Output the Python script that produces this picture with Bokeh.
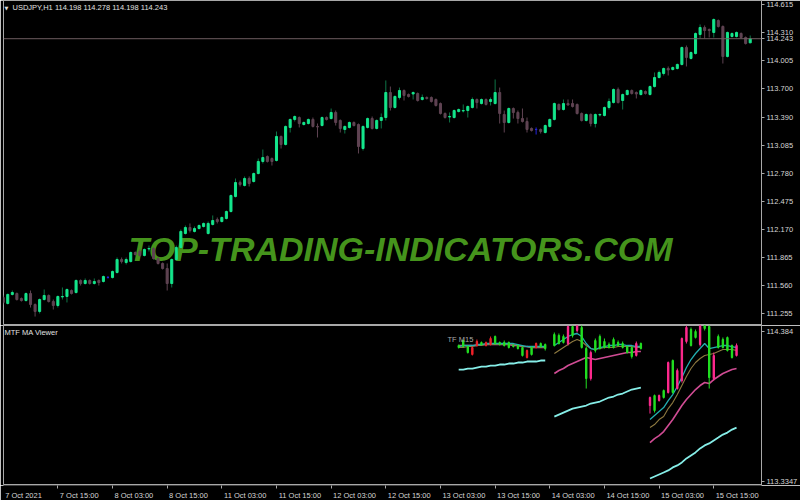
import numpy as np
from bokeh.plotting import figure
from bokeh.layouts import column
from bokeh.models import (ColumnDataSource, Range1d, FixedTicker, LinearAxis,
                          CustomJSTickFormatter, Label, Span)
from bokeh.embed import file_html
from bokeh.resources import INLINE

# ---------------- USDJPY H1 candles, from 7 Oct 2021 03:00 ----------------
h1_open = [
    111.429, 111.364, 111.462, 111.472, 111.418, 111.396, 111.472, 111.353, 111.277, 111.407,
    111.451, 111.385, 111.342, 111.435, 111.440, 111.505, 111.483, 111.614, 111.581, 111.614,
    111.581, 111.614, 111.603, 111.646, 111.646, 111.701, 111.842, 111.810, 111.820, 111.918,
    111.929, 111.886, 111.957, 111.962, 111.853, 111.799, 111.744, 111.581, 111.842, 111.973,
    112.125, 112.190, 112.147, 112.179, 112.201, 112.125, 112.223, 112.277, 112.255, 112.288,
    112.364, 112.527, 112.679, 112.647, 112.723, 112.690, 112.777, 112.908, 112.962, 112.940,
    112.919, 113.180, 113.093, 113.278, 113.365, 113.386, 113.310, 113.321, 113.365, 113.289,
    113.299, 113.386, 113.375, 113.441, 113.354, 113.256, 113.278, 113.332, 113.310, 113.049,
    113.278, 113.375, 113.267, 113.354, 113.386, 113.658, 113.495, 113.604, 113.680, 113.636,
    113.642, 113.647, 113.582, 113.604, 113.604, 113.582, 113.538, 113.430, 113.392, 113.386,
    113.451, 113.457, 113.462, 113.495, 113.582, 113.538, 113.582, 113.560, 113.538, 113.658,
    113.419, 113.332, 113.484, 113.441, 113.375, 113.343, 113.267, 113.256, 113.256, 113.223,
    113.289, 113.365, 113.528, 113.473, 113.538, 113.538, 113.528, 113.430, 113.354, 113.419,
    113.321, 113.414, 113.408, 113.495, 113.549, 113.691, 113.571, 113.636, 113.680, 113.658,
    113.636, 113.669, 113.636, 113.723, 113.821, 113.865, 113.919, 113.908, 113.919, 113.963,
    114.147, 114.028, 114.082, 114.289, 114.365, 114.343, 114.311, 114.441, 114.376, 114.050,
    114.267, 114.267, 114.300, 114.256, 114.198,
]
h1_high = [
    111.451, 111.472, 111.505, 111.483, 111.429, 111.483, 111.505, 111.364, 111.418, 111.516,
    111.462, 111.407, 111.451, 111.538, 111.527, 111.516, 111.625, 111.625, 111.636, 111.625,
    111.636, 111.625, 111.668, 111.663, 111.722, 111.864, 111.864, 111.864, 111.929, 111.929,
    111.951, 111.962, 111.994, 111.973, 111.864, 111.810, 111.799, 111.853, 111.994, 112.168,
    112.212, 112.234, 112.201, 112.223, 112.245, 112.255, 112.321, 112.299, 112.310, 112.375,
    112.549, 112.723, 112.701, 112.745, 112.745, 112.788, 112.940, 113.038, 112.973, 112.951,
    113.234, 113.190, 113.299, 113.375, 113.408, 113.397, 113.343, 113.375, 113.386, 113.321,
    113.397, 113.397, 113.484, 113.462, 113.365, 113.299, 113.343, 113.343, 113.321, 113.299,
    113.386, 113.397, 113.365, 113.430, 113.789, 113.723, 113.626, 113.712, 113.691, 113.647,
    113.669, 113.658, 113.636, 113.615, 113.615, 113.593, 113.549, 113.441, 113.441, 113.473,
    113.484, 113.528, 113.517, 113.604, 113.593, 113.593, 113.593, 113.604, 113.800, 113.712,
    113.462, 113.495, 113.495, 113.462, 113.484, 113.386, 113.278, 113.278, 113.267, 113.310,
    113.375, 113.549, 113.538, 113.582, 113.582, 113.582, 113.538, 113.441, 113.430, 113.430,
    113.430, 113.430, 113.506, 113.593, 113.702, 113.712, 113.647, 113.691, 113.691, 113.669,
    113.691, 113.680, 113.734, 113.876, 113.897, 113.930, 113.941, 113.941, 113.973, 114.158,
    114.169, 114.104, 114.311, 114.398, 114.387, 114.354, 114.463, 114.452, 114.387, 114.321,
    114.311, 114.321, 114.311, 114.267, 114.278,
]
h1_low = [
    111.353, 111.353, 111.451, 111.396, 111.385, 111.385, 111.320, 111.222, 111.255, 111.396,
    111.375, 111.298, 111.320, 111.407, 111.375, 111.462, 111.472, 111.559, 111.570, 111.570,
    111.570, 111.559, 111.592, 111.636, 111.636, 111.690, 111.799, 111.788, 111.810, 111.886,
    111.875, 111.875, 111.929, 111.842, 111.788, 111.733, 111.505, 111.538, 111.831, 111.962,
    112.114, 112.136, 112.136, 112.168, 112.190, 112.114, 112.212, 112.234, 112.245, 112.277,
    112.353, 112.516, 112.636, 112.636, 112.636, 112.679, 112.767, 112.886, 112.897, 112.864,
    112.908, 113.049, 113.082, 113.223, 113.343, 113.278, 113.299, 113.310, 113.278, 113.169,
    113.289, 113.354, 113.365, 113.299, 113.223, 113.212, 113.267, 113.289, 112.995, 113.027,
    113.267, 113.256, 113.256, 113.267, 113.354, 113.462, 113.484, 113.582, 113.571, 113.604,
    113.582, 113.560, 113.571, 113.582, 113.549, 113.506, 113.419, 113.375, 113.332, 113.375,
    113.441, 113.441, 113.386, 113.484, 113.484, 113.528, 113.517, 113.517, 113.528, 113.321,
    113.223, 113.321, 113.375, 113.321, 113.332, 113.223, 113.234, 113.201, 113.212, 113.212,
    113.278, 113.354, 113.462, 113.462, 113.517, 113.495, 113.419, 113.343, 113.343, 113.289,
    113.278, 113.397, 113.397, 113.473, 113.538, 113.538, 113.473, 113.626, 113.636, 113.593,
    113.626, 113.636, 113.626, 113.712, 113.810, 113.843, 113.843, 113.897, 113.908, 113.952,
    113.941, 114.017, 114.071, 114.245, 114.245, 114.256, 114.256, 114.365, 113.973, 114.039,
    114.256, 114.256, 114.245, 114.180, 114.198,
]
h1_close = [
    111.375, 111.462, 111.483, 111.407, 111.396, 111.472, 111.353, 111.277, 111.407, 111.451,
    111.385, 111.342, 111.440, 111.440, 111.516, 111.472, 111.614, 111.581, 111.614, 111.581,
    111.603, 111.592, 111.657, 111.646, 111.712, 111.842, 111.820, 111.842, 111.918, 111.896,
    111.886, 111.951, 111.962, 111.853, 111.799, 111.744, 111.581, 111.842, 111.973, 112.147,
    112.190, 112.157, 112.179, 112.212, 112.234, 112.234, 112.266, 112.255, 112.299, 112.364,
    112.538, 112.679, 112.658, 112.723, 112.669, 112.777, 112.908, 112.951, 112.908, 112.908,
    113.180, 113.093, 113.289, 113.365, 113.397, 113.321, 113.332, 113.365, 113.289, 113.283,
    113.386, 113.365, 113.441, 113.332, 113.267, 113.289, 113.332, 113.299, 113.071, 113.289,
    113.375, 113.267, 113.354, 113.386, 113.658, 113.495, 113.615, 113.680, 113.626, 113.615,
    113.658, 113.571, 113.604, 113.593, 113.560, 113.517, 113.430, 113.386, 113.397, 113.462,
    113.473, 113.462, 113.506, 113.582, 113.549, 113.582, 113.528, 113.582, 113.658, 113.430,
    113.332, 113.484, 113.441, 113.375, 113.343, 113.256, 113.245, 113.256, 113.234, 113.299,
    113.365, 113.538, 113.473, 113.538, 113.522, 113.506, 113.430, 113.354, 113.419, 113.321,
    113.419, 113.419, 113.495, 113.560, 113.691, 113.549, 113.636, 113.680, 113.647, 113.642,
    113.680, 113.647, 113.723, 113.821, 113.876, 113.919, 113.903, 113.930, 113.963, 114.147,
    114.039, 114.093, 114.300, 114.365, 114.332, 114.332, 114.452, 114.376, 114.050, 114.311,
    114.300, 114.311, 114.256, 114.191, 114.243,
]

price_ticks = [114.615, 114.310, 114.005, 113.700, 113.390, 113.085,
               112.780, 112.475, 112.170, 111.865, 111.560, 111.255]
price_tick_labels = ["114.615", "114.310", "114.005", "113.700", "113.390", "113.085",
                     "112.780", "112.475", "112.170", "111.865", "111.560", "111.255"]

time_ticks = [0, 12, 24, 36, 48, 60, 72, 84, 96, 108, 120, 132, 144, 156]
time_labels = ["7 Oct 2021", "7 Oct 15:00", "8 Oct 03:00", "8 Oct 15:00",
               "11 Oct 03:00", "11 Oct 15:00", "12 Oct 03:00", "12 Oct 15:00",
               "13 Oct 03:00", "13 Oct 15:00", "14 Oct 03:00", "14 Oct 15:00",
               "15 Oct 03:00", "15 Oct 15:00"]

chart_title = "USDJPY,H1  114.198 114.278 114.198 114.243"
last_price = 114.243
last_price_label = "114.243"

# ---------------- MTF MA Viewer sub-window (M15 blocks) ----------------
mtf_first_bar = [100, 121, 142]
mtf_open = [
    [114.272, 114.279, 114.237, 114.272, 114.314, 114.293, 114.307, 114.335, 114.300, 114.293,
     114.286, 114.272, 114.279, 114.265, 114.216, 114.251, 114.223, 114.300, 114.279, 114.265],
    [114.286, 114.300, 114.307, 114.419, 114.356, 114.426, 114.272, 114.055, 114.237, 114.251,
     114.265, 114.272, 114.272, 114.272, 114.286, 114.272, 114.237, 114.209, 114.300, 114.265],
    [113.922, 113.831, 113.936, 113.922, 114.167, 113.957, 114.111, 114.335, 114.412, 114.286,
     114.342, 114.426, 114.405, 114.062, 114.216, 114.272, 114.272, 114.251, 114.202, 114.286],
]
mtf_high = [
    [114.293, 114.328, 114.286, 114.279, 114.328, 114.314, 114.314, 114.349, 114.356, 114.314,
     114.321, 114.314, 114.293, 114.293, 114.279, 114.258, 114.279, 114.307, 114.307, 114.300],
    [114.377, 114.370, 114.363, 114.426, 114.426, 114.433, 114.433, 114.279, 114.251, 114.335,
     114.363, 114.335, 114.307, 114.342, 114.321, 114.314, 114.286, 114.279, 114.314, 114.307],
    [113.929, 113.943, 113.943, 113.978, 114.174, 114.188, 114.125, 114.342, 114.426, 114.412,
     114.398, 114.433, 114.433, 114.433, 114.237, 114.363, 114.342, 114.349, 114.293, 114.300],
]
mtf_low = [
    [114.265, 114.272, 114.230, 114.216, 114.279, 114.286, 114.279, 114.286, 114.293, 114.286,
     114.279, 114.265, 114.272, 114.258, 114.209, 114.195, 114.216, 114.265, 114.272, 114.251],
    [114.279, 114.293, 114.300, 114.286, 114.342, 114.377, 114.265, 113.985, 114.041, 114.237,
     114.258, 114.265, 114.265, 114.265, 114.279, 114.265, 114.230, 114.195, 114.209, 114.258],
    [113.810, 113.817, 113.894, 113.915, 113.950, 113.950, 113.978, 114.027, 114.300, 114.279,
     114.335, 114.279, 114.391, 113.985, 114.041, 114.265, 114.265, 114.244, 114.195, 114.209],
]
mtf_close = [
    [114.286, 114.321, 114.279, 114.223, 114.286, 114.307, 114.286, 114.293, 114.349, 114.307,
     114.307, 114.307, 114.286, 114.286, 114.272, 114.202, 114.272, 114.272, 114.300, 114.293],
    [114.363, 114.356, 114.349, 114.300, 114.419, 114.391, 114.412, 114.265, 114.055, 114.321,
     114.349, 114.314, 114.293, 114.328, 114.307, 114.300, 114.279, 114.272, 114.216, 114.300],
    [113.866, 113.936, 113.901, 113.971, 113.957, 114.181, 113.985, 114.041, 114.314, 114.398,
     114.384, 114.293, 114.426, 114.419, 114.055, 114.349, 114.328, 114.342, 114.286, 114.216],
]
ma_teal = [
    [114.279, 114.286, 114.286, 114.286, 114.293, 114.293, 114.300, 114.300, 114.300, 114.300,
     114.300, 114.300, 114.300, 114.293, 114.286, 114.279, 114.279, 114.279, 114.279, 114.279],
    [114.286, 114.307, 114.328, 114.349, 114.363, 114.370, 114.349, 114.300, 114.265, 114.258,
     114.272, 114.279, 114.286, 114.286, 114.293, 114.293, 114.286, 114.286, 114.279, 114.279],
    [113.768, 113.796, 113.824, 113.852, 113.901, 113.943, 113.999, 114.062, 114.132, 114.188,
     114.230, 114.265, 114.300, 114.265, 114.272, 114.279, 114.286, 114.286, 114.279, 114.272],
]
ma_olive = [
    [114.272, 114.272, 114.279, 114.279, 114.286, 114.286, 114.293, 114.293, 114.293, 114.293,
     114.293, 114.293, 114.293, 114.286, 114.279, 114.279, 114.272, 114.272, 114.272, 114.272],
    [114.230, 114.251, 114.272, 114.293, 114.314, 114.328, 114.314, 114.286, 114.265, 114.258,
     114.265, 114.272, 114.272, 114.272, 114.279, 114.279, 114.279, 114.279, 114.272, 114.272],
    [113.712, 113.733, 113.768, 113.789, 113.845, 113.887, 113.943, 114.006, 114.069, 114.125,
     114.167, 114.195, 114.216, 114.223, 114.230, 114.244, 114.258, 114.258, 114.258, 114.251],
]
ma_pink = [
    [114.286, 114.286, 114.286, 114.286, 114.286, 114.293, 114.293, 114.293, 114.293, 114.293,
     114.293, 114.293, 114.286, 114.286, 114.279, 114.279, 114.272, 114.272, 114.272, 114.272],
    [114.090, 114.111, 114.125, 114.146, 114.160, 114.174, 114.188, 114.202, 114.195, 114.188,
     114.195, 114.202, 114.209, 114.216, 114.223, 114.230, 114.237, 114.237, 114.244, 114.244],
    [113.607, 113.635, 113.656, 113.684, 113.726, 113.768, 113.817, 113.866, 113.908, 113.943,
     113.978, 114.006, 114.027, 114.020, 114.048, 114.069, 114.090, 114.104, 114.118, 114.125],
]
ma_cyan = [
    [114.118, 114.118, 114.125, 114.125, 114.132, 114.139, 114.139, 114.146, 114.146, 114.153,
     114.153, 114.160, 114.160, 114.167, 114.167, 114.174, 114.174, 114.174, 114.181, 114.181],
    [113.789, 113.803, 113.817, 113.831, 113.845, 113.852, 113.859, 113.866, 113.880, 113.887,
     113.894, 113.908, 113.922, 113.929, 113.943, 113.950, 113.964, 113.978, 113.985, 113.992],
    [113.356, 113.370, 113.384, 113.398, 113.412, 113.433, 113.447, 113.468, 113.496, 113.517,
     113.538, 113.566, 113.587, 113.601, 113.622, 113.642, 113.663, 113.677, 113.698, 113.712],
]
sub_ticks = [114.384, 113.3347]
sub_tick_labels = ["114.384", "113.3347"]

# ---------------- styling ----------------
FONT = "Liberation Sans"
FONT_SIZE = "7.5px"
TEXT = "#D6D6D6"
FRAME = "#A8A8A8"
BULL_BODY, BULL_WICK = "#14E68C", "#0E7446"
BEAR = "#5F4352"
DOJI = "#2424E0"

X_START, X_END = 0.066, 166.48
SUB_TOP, SUB_BOTTOM = 114.426, 113.3067
FRAME_W = 760
bar_px = FRAME_W / (X_END - X_START)
x_rng = Range1d(X_START, X_END)


def lookup_formatter(positions, texts):
    return CustomJSTickFormatter(args=dict(pos=list(positions), txt=list(texts)), code="""
        let best = 0;
        for (let i = 1; i < pos.length; i++) {
            if (Math.abs(pos[i] - tick) < Math.abs(pos[best] - tick)) best = i;
        }
        return txt[best];
    """)


def style_axis(ax):
    ax.axis_line_color = FRAME
    ax.major_tick_line_color = FRAME
    ax.minor_tick_line_color = FRAME
    ax.major_tick_out = 3
    ax.major_tick_in = 0
    ax.minor_tick_out = 0
    ax.minor_tick_in = 0
    ax.major_label_standoff = 2
    ax.major_label_text_font = FONT
    ax.major_label_text_font_size = FONT_SIZE
    ax.major_label_text_color = TEXT


def base_figure(height, y_rng, bottom_border, y_loc="right", outline=FRAME):
    p = figure(width=800, height=height, x_range=x_rng, y_range=y_rng,
               output_backend="svg", toolbar_location=None,
               x_axis_location=None, y_axis_location=y_loc,
               background_fill_color="black", border_fill_color="black",
               min_border_left=3, min_border_right=37, min_border_top=0,
               min_border_bottom=bottom_border, outline_line_color=outline)
    p.xgrid.visible = False
    p.ygrid.visible = False
    return p


# ---------------- main price window ----------------
p_main = base_figure(325, Range1d(111.1245, 114.6585), 0)
yax = p_main.yaxis[0]
scale_ticks = price_ticks + [last_price]
scale_labels = price_tick_labels + [last_price_label]
yax.ticker = FixedTicker(ticks=scale_ticks)
yax.formatter = lookup_formatter(scale_ticks, scale_labels)
style_axis(yax)

o = np.array(h1_open); h = np.array(h1_high); l = np.array(h1_low); c = np.array(h1_close)
body_col = np.where(c > o, BULL_BODY, np.where(c < o, BEAR, DOJI))
wick_col = np.where(c > o, BULL_WICK, np.where(c < o, BEAR, DOJI))
src = ColumnDataSource(dict(x=np.arange(len(o)), top=np.maximum(o, c), bottom=np.minimum(o, c),
                            high=h, low=l, body=body_col, wick=wick_col))

watermark = Label(x=397, y=77, x_units="screen", y_units="screen",
                  text="TOP-TRADING-INDICATORS.COM", text_align="center", text_baseline="middle",
                  text_font=FONT, text_font_style="bold italic", text_font_size="34px",
                  text_color="#4A9E1E", text_alpha=0.95, level="underlay")
p_main.add_layout(watermark)

p_main.add_layout(Span(location=last_price, dimension="width", line_color="#6E5C60", line_width=1))

p_main.segment(x0="x", y0="low", x1="x", y1="high", line_color="wick", line_width=1, source=src)
p_main.vbar(x="x", width=0.45, top="top", bottom="bottom", fill_color="body",
            line_color="body", line_width=1, source=src)

p_main.add_layout(Label(x=1, y=318, x_units="screen", y_units="screen", text="\u25bc",
                        text_font="DejaVu Sans", text_font_size="5px", text_color="#E0E0E0",
                        text_baseline="middle"))
p_main.add_layout(Label(x=9, y=318, x_units="screen", y_units="screen", text=chart_title,
                        text_font=FONT, text_font_size=FONT_SIZE, text_color="#E0E0E0",
                        text_baseline="middle"))

# ---------------- indicator window ----------------
p_sub = base_figure(160, Range1d(SUB_BOTTOM, SUB_TOP), 0)
sax = p_sub.yaxis[0]
sax.ticker = FixedTicker(ticks=sub_ticks)
sax.formatter = lookup_formatter(sub_ticks, sub_tick_labels)
style_axis(sax)

line_styles = [(ma_cyan, "#86EEE8", 1.8), (ma_pink, "#D04C94", 1.6),
               (ma_olive, "#8E7A40", 1.1), (ma_teal, "#22AEB0", 1.3)]
for seg, start in enumerate(mtf_first_bar):
    xs = start + np.arange(len(mtf_open[seg]))
    for vals, col, lw in line_styles:
        p_sub.line(xs, vals[seg], line_color=col, line_width=lw)

for seg, start in enumerate(mtf_first_bar):
    so = np.array(mtf_open[seg]); sh = np.array(mtf_high[seg])
    sl = np.array(mtf_low[seg]); sc = np.array(mtf_close[seg])
    bear_col = "#F0202A" if seg == 0 else "#FF2A8E"
    cols = np.where(sc >= so, "#22E022", bear_col)
    s_src = ColumnDataSource(dict(x=start + np.arange(len(so)), top=np.maximum(so, sc),
                                  bottom=np.minimum(so, sc), high=sh, low=sl, col=cols))
    p_sub.segment(x0="x", y0="low", x1="x", y1="high", line_color="col", line_width=1, source=s_src)
    p_sub.vbar(x="x", width=0.3, top="top", bottom="bottom", fill_color="col",
               line_color="col", line_width=1, source=s_src)

# window captions, hung from the top edge of the indicator window
p_sub.add_layout(Label(x=1, y=SUB_TOP, x_units="screen", y_offset=-2, text="MTF MA Viewer",
                       text_font=FONT, text_font_size=FONT_SIZE, text_color="#E0E0E0",
                       text_baseline="top"))
p_sub.add_layout(Label(x=444, y=SUB_TOP, x_units="screen", y_offset=-9, text="TF M15",
                       text_font=FONT, text_font_size=FONT_SIZE, text_color="#A8A8A8",
                       text_baseline="top"))

# ---------------- shared time scale under both windows ----------------
p_time = base_figure(15, Range1d(0, 1), 14, y_loc=None, outline=None)
char_em = {" ": 0.278, "O": 0.778, "c": 0.5, "t": 0.278, ":": 0.278}
label_pos = [t + (sum(char_em.get(ch, 0.556) for ch in s) * 7.5 / 2 + 2) / bar_px
             for t, s in zip(time_ticks, time_labels)]
time_axis = LinearAxis(ticker=FixedTicker(ticks=label_pos, minor_ticks=time_ticks),
                       formatter=lookup_formatter(label_pos, time_labels))
style_axis(time_axis)
time_axis.axis_line_color = None
time_axis.major_tick_line_color = None
time_axis.major_tick_out = 0
time_axis.minor_tick_out = 3
time_axis.major_label_standoff = 2
p_time.add_layout(time_axis, "below")

layout = column(p_main, p_sub, p_time, spacing=0)
open("out.html", "w").write(file_html(layout, INLINE))
